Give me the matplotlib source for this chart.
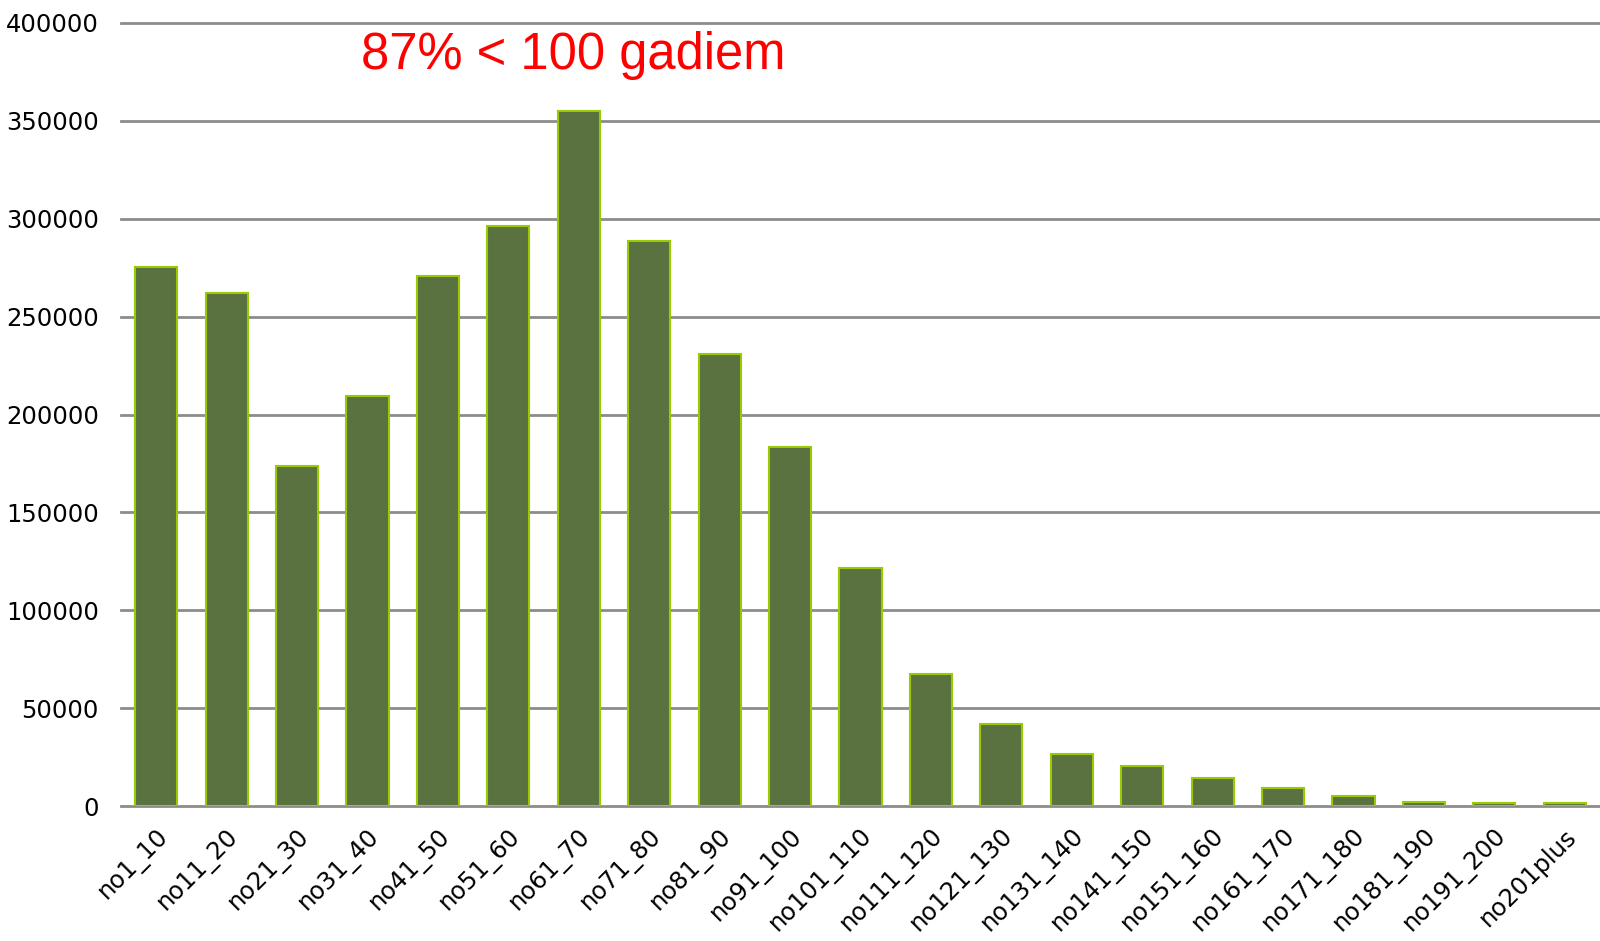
import matplotlib
matplotlib.use("Agg")
import matplotlib.pyplot as plt
import numpy as np

categories = ["no1_10", "no11_20", "no21_30", "no31_40", "no41_50", "no51_60",
              "no61_70", "no71_80", "no81_90", "no91_100", "no101_110", "no111_120",
              "no121_130", "no131_140", "no141_150", "no151_160", "no161_170",
              "no171_180", "no181_190", "no191_200", "no201plus"]
values = [275500, 262000, 173500, 209500, 270500, 296500,
          355200, 288500, 230800, 183300, 121400, 67200,
          41700, 26600, 20600, 14100, 9000,
          5000, 2200, 1500, 1500]
yticks = list(range(0, 400001, 50000))
annotation = "87% < 100 gadiem"

fig = plt.figure(figsize=(16, 9.41), dpi=100)
ax = fig.add_axes([121/1600, 1-806/941, 1-121/1600, (806-23)/941])

x = np.arange(len(categories))
ax.bar(x, values, width=0.6, color="#5a7140", edgecolor="#99cc00", linewidth=1.5, zorder=3)

ax.set_xlim(-0.5, len(categories)-0.5)
ax.set_ylim(0, 400000)
ax.set_yticks(yticks)
ax.set_yticklabels([str(v) for v in yticks], fontsize=17.5, family="DejaVu Sans")
ax.set_xticks(x)
ax.set_xticklabels(categories, rotation=45, ha="right", rotation_mode="anchor",
                   fontsize=17.5, family="DejaVu Sans")
for s in ax.spines.values():
    s.set_visible(False)
ax.tick_params(axis="both", length=0)
ax.tick_params(axis="y", pad=16)
ax.tick_params(axis="x", pad=13)
for v in yticks:
    ax.axhline(v, color="#8c8c8c", linewidth=2.0, zorder=1, clip_on=False)

fig.text(361/1600, 1-55/941, annotation, color="#ff0000", fontsize=36.5,
         family="Liberation Sans", ha="left", va="center")

fig.savefig("out.png", dpi=100, facecolor="white")
